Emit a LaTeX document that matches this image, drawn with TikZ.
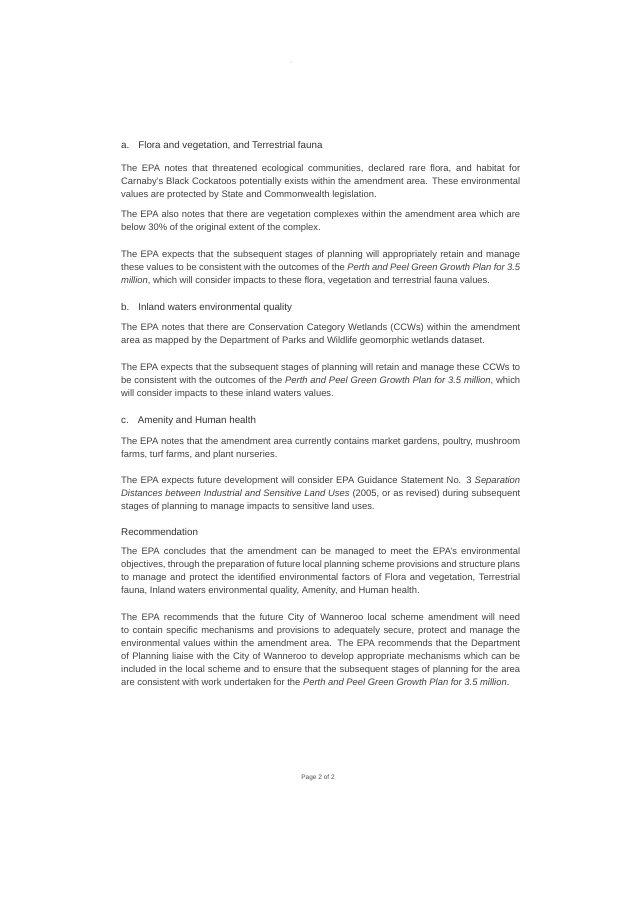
\documentclass[tikz,border=0pt]{standalone}
\usepackage{fontspec}
\setmainfont{Liberation Sans}
\newcommand\myparafont{\fontsize{9.4}{13}\selectfont\hyphenpenalty=10000 \exhyphenpenalty=10000\relax}
\begin{document}
\begin{tikzpicture}[x=1pt,y=-1pt,
  para/.style={anchor=north west,inner sep=0pt,text width=399pt,align=justify,font=\myparafont,text=black!75},
  head/.style={anchor=west,inner sep=0pt,font=\fontsize{9.8}{13}\selectfont,text=black!80}]
\useasboundingbox (0,0) rectangle (637,901);
\fill[white] (0,0) rectangle (637,901);
\fill[black!50] (291,62) circle (0.5);
\node[head] (ha) at (121,146) {a.\hspace{9pt}Flora and vegetation, and Terrestrial fauna};
\node[para] (p1) at (121,164) {The EPA notes that threatened ecological communities, declared rare flora, and habitat for Carnaby's Black Cockatoos potentially exists within the amendment area. These environmental values are protected by State and Commonwealth legislation.};
\node[para] (p2) at (121,210) {The EPA also notes that there are vegetation complexes within the amendment area which are below 30\% of the original extent of the complex.};
\node[para] (p3) at (121,250) {The EPA expects that the subsequent stages of planning will appropriately retain and manage these values to be consistent with the outcomes of the \textit{Perth and Peel Green Growth Plan for 3.5 million}, which will consider impacts to these flora, vegetation and terrestrial fauna values.};
\node[head] (hb) at (121,308) {b.\hspace{9pt}Inland waters environmental quality};
\node[para] (p4) at (121,323) {The EPA notes that there are Conservation Category Wetlands (CCWs) within the amendment area as mapped by the Department of Parks and Wildlife geomorphic wetlands dataset.};
\node[para] (p5) at (121,363) {The EPA expects that the subsequent stages of planning will retain and manage these CCWs to be consistent with the outcomes of the \textit{Perth and Peel Green Growth Plan for 3.5 million}, which will consider impacts to these inland waters values.};
\node[head] (hc) at (121,421) {c.\hspace{9pt}Amenity and Human health};
\node[para] (p6) at (121,437) {The EPA notes that the amendment area currently contains market gardens, poultry, mushroom farms, turf farms, and plant nurseries.};
\node[para] (p7) at (121,476) {The EPA expects future development will consider EPA Guidance Statement No. 3 \textit{Separation Distances between Industrial and Sensitive Land Uses} (2005, or as revised) during subsequent stages of planning to manage impacts to sensitive land uses.};
\node[head] (hr) at (121,532) {Recommendation};
\node[para] (p8) at (121,547) {The EPA concludes that the amendment can be managed to meet the EPA's environmental objectives, through the preparation of future local planning scheme provisions and structure plans to manage and protect the identified environmental factors of Flora and vegetation, Terrestrial fauna, Inland waters environmental quality, Amenity, and Human health.};
\node[para] (p9) at (121,613) {The EPA recommends that the future City of Wanneroo local scheme amendment will need to contain specific mechanisms and provisions to adequately secure, protect and manage the environmental values within the amendment area. The EPA recommends that the Department of Planning liaise with the City of Wanneroo to develop appropriate mechanisms which can be included in the local scheme and to ensure that the subsequent stages of planning for the area are consistent with work undertaken for the \textit{Perth and Peel Green Growth Plan for 3.5 million}.};
\node[inner sep=0pt,font=\fontsize{6.5}{8}\selectfont,text=black!70] (pg) at (318,778) {Page 2 of 2};
\end{tikzpicture}
\end{document}
